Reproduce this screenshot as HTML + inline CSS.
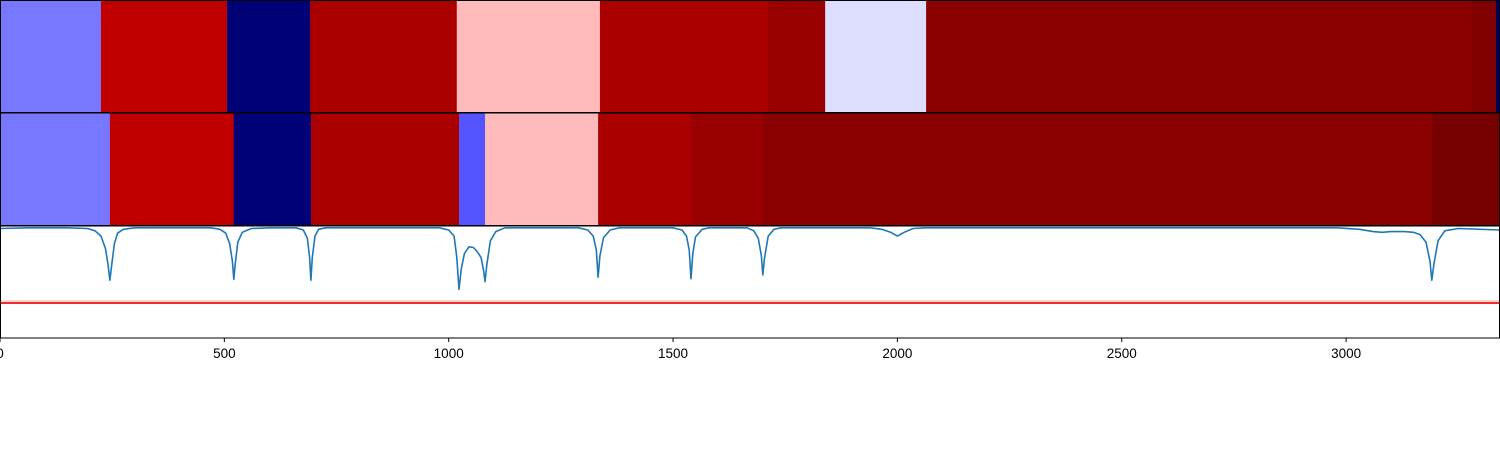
<!DOCTYPE html>
<html><head><meta charset="utf-8"><style>
html,body{margin:0;padding:0;background:#fff;width:1500px;height:450px;overflow:hidden}
svg{display:block}
text{font-family:"Liberation Sans","DejaVu Sans",sans-serif;font-size:13.5px;fill:#000}
</style></head><body>
<svg id="chart" width="1500" height="450"></svg>
<script>
const xMax = 3343;
const topEdges = [0,225,506,691,1018,1337,1712,1839,2064,3281,3334,3343];
const topColors = ['#7777ff','#c00000','#000077','#aa0000','#ffbbbb','#aa0000','#990000','#ddddff','#8b0000','#800000','#000060'];
const midEdges = [0,245,521,693,1023,1081,1333,1540,1700,3191,3343];
const midColors = ['#7777ff','#c00000','#000077','#aa0000','#5555ff','#ffbbbb','#aa0000','#990000','#8b0000','#770000'];
const curveX = [0,60,150,195,212,225,235,241,245,249,255,262,275,300,470,490,503,512,518,521,524,530,540,560,600,660,676,685,690,693,696,702,710,725,980,1000,1012,1018,1023,1028,1035,1045,1055,1063,1072,1078,1081,1085,1093,1105,1125,1290,1310,1322,1329,1333,1337,1345,1360,1380,1500,1520,1530,1536,1540,1544,1550,1565,1580,1665,1680,1690,1697,1700,1704,1712,1725,1740,1940,1965,1985,2000,2015,2035,2060,2980,3030,3060,3080,3100,3130,3150,3165,3178,3187,3191,3196,3205,3220,3250,3343];
const curveY = [0.98,0.99,0.99,0.98,0.95,0.88,0.72,0.5,0.30,0.5,0.78,0.92,0.97,0.99,0.99,0.97,0.92,0.78,0.55,0.31,0.5,0.8,0.93,0.98,0.99,0.99,0.96,0.85,0.6,0.30,0.6,0.88,0.97,0.99,0.99,0.96,0.88,0.6,0.18,0.45,0.65,0.74,0.73,0.68,0.6,0.42,0.28,0.5,0.82,0.94,0.99,0.99,0.96,0.88,0.7,0.34,0.62,0.86,0.96,0.99,0.99,0.96,0.88,0.7,0.32,0.65,0.87,0.97,0.99,0.99,0.95,0.85,0.62,0.37,0.6,0.88,0.97,0.99,0.99,0.97,0.93,0.88,0.93,0.98,0.99,0.99,0.97,0.94,0.93,0.94,0.94,0.93,0.9,0.8,0.55,0.30,0.52,0.82,0.95,0.98,0.96];
const thresholdValue = [0];
const xTicks = [0,500,1000,1500,2000,2500,3000];

const svg = document.getElementById('chart');
const NS = 'http://www.w3.org/2000/svg';
const W = 1500;
const xs = v => v / xMax * W;
const ys = v => 303 - v * 76;
function mk(tag, attrs){const e=document.createElementNS(NS,tag);for(const k in attrs)e.setAttribute(k,attrs[k]);svg.appendChild(e);return e;}

function band(edges, colors, y0, h, name){
  for(let i=0;i<colors.length;i++){
    const r = mk('rect',{x:xs(edges[i]),y:y0,width:xs(edges[i+1])-xs(edges[i])+0.5,height:h,fill:colors[i]});
    
    
  }
}
band(topEdges, topColors, 0.5, 112, 'top-band');
band(midEdges, midColors, 113, 112.5, 'middle-band');

const pink = mk('line',{x1:0,x2:W,y1:ys(thresholdValue[0])-2,y2:ys(thresholdValue[0])-2,stroke:'#ffaaaa','stroke-width':1});


const red = mk('line',{x1:0,x2:W,y1:ys(thresholdValue[0]),y2:ys(thresholdValue[0]),stroke:'#ee1111','stroke-width':1.8});



let d='';
curveX.forEach((x,i)=>{d+=(i?'L':'M')+xs(x).toFixed(1)+','+ys(curveY[i]).toFixed(1);});
const p = mk('path',{d:d,fill:'none',stroke:'#1f77b4','stroke-width':1.6,'stroke-linejoin':'round'});



[[0.5,112.5],[113,225.5],[226,338]].forEach((b,i)=>{
  const r = mk('rect',{x:0.5,y:b[0],width:W-1,height:b[1]-b[0],fill:'none',stroke:'#000','stroke-width':1});
  
  
});

xTicks.forEach(t=>{
  const x = xs(t);
  const tk = mk('line',{x1:x,x2:x,y1:338,y2:342,stroke:'#000','stroke-width':1});
  
  
  const tx = mk('text',{x:x,y:358,'text-anchor':'middle'});
  tx.textContent = t;
  
  
});
</script>
</body></html>
